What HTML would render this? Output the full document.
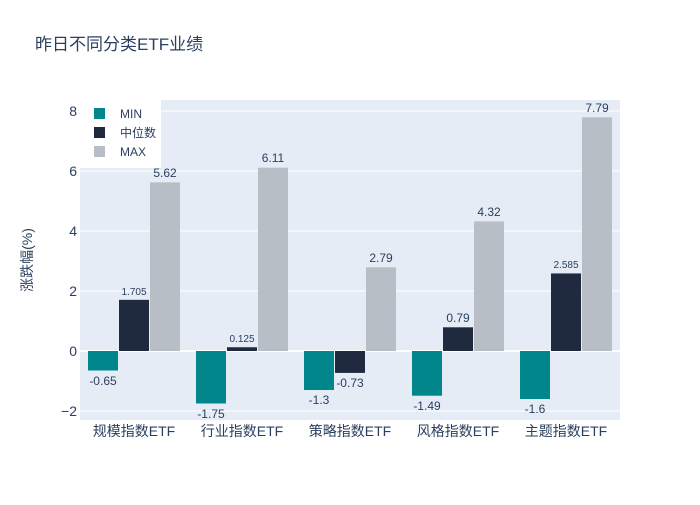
<!DOCTYPE html>
<html><head><meta charset="utf-8"><style>
body{margin:0;background:#fff;}
svg{font-family:"Liberation Sans","Noto Sans CJK SC",sans-serif;}
</style></head><body>
<svg width="700" height="500" xmlns="http://www.w3.org/2000/svg">
<rect width="700" height="500" fill="#fff"/>
<text x="35" y="50" font-size="17" fill="#2a3f5f">昨日不同分类ETF业绩</text>
<rect x="80" y="100" width="540" height="320" fill="#e5ecf6"/>
<g stroke="#fff" stroke-width="1">
<line x1="80" x2="620" y1="411" y2="411"/>
<line x1="80" x2="620" y1="291" y2="291"/>
<line x1="80" x2="620" y1="231" y2="231"/>
<line x1="80" x2="620" y1="171" y2="171"/>
<line x1="80" x2="620" y1="111" y2="111"/>
</g>
<line x1="80" x2="620" y1="351" y2="351" stroke="#fff" stroke-width="2"/>
<g font-size="14" fill="#2a3f5f" text-anchor="end">
<text x="77" y="416">−2</text><text x="77" y="356">0</text><text x="77" y="296">2</text>
<text x="77" y="236">4</text><text x="77" y="176">6</text><text x="77" y="116">8</text>
</g>
<text transform="translate(32,260) rotate(-90)" font-size="14" fill="#2a3f5f" text-anchor="middle">涨跌幅(%)</text>
<g font-size="14" fill="#2a3f5f" text-anchor="middle">
<text x="134" y="436">规模指数ETF</text><text x="242" y="436">行业指数ETF</text>
<text x="350" y="436">策略指数ETF</text><text x="458" y="436">风格指数ETF</text>
<text x="566" y="436">主题指数ETF</text>
</g>
<g fill="#00868b">
<rect x="88" y="351" width="30" height="19.5"/>
<rect x="196" y="351" width="30" height="52.5"/>
<rect x="304" y="351" width="30" height="39"/>
<rect x="412" y="351" width="30" height="44.7"/>
<rect x="520" y="351" width="30" height="48"/>
</g>
<g fill="#1f2a3f">
<rect x="119" y="299.85" width="30" height="51.15"/>
<rect x="227" y="347.25" width="30" height="3.75"/>
<rect x="335" y="351" width="30" height="21.9"/>
<rect x="443" y="327.3" width="30" height="23.7"/>
<rect x="551" y="273.45" width="30" height="77.55"/>
</g>
<g fill="#b8bec6">
<rect x="150" y="182.4" width="30" height="168.6"/>
<rect x="258" y="167.7" width="30" height="183.3"/>
<rect x="366" y="267.3" width="30" height="83.7"/>
<rect x="474" y="221.4" width="30" height="129.6"/>
<rect x="582" y="117.3" width="30" height="233.7"/>
</g>
<g font-size="12" fill="#2a3f5f" text-anchor="middle">
<text x="103" y="385">-0.65</text><text x="211" y="418">-1.75</text>
<text x="319" y="404">-1.3</text><text x="427" y="410">-1.49</text><text x="535" y="413">-1.6</text>
<text x="350" y="387">-0.73</text><text x="458" y="322">0.79</text>
<text x="165" y="177">5.62</text><text x="273" y="162">6.11</text><text x="381" y="262">2.79</text>
<text x="489" y="216">4.32</text><text x="597" y="112">7.79</text>
</g>
<g font-size="10" fill="#2a3f5f" text-anchor="middle">
<text x="134" y="295">1.705</text><text x="242" y="342">0.125</text><text x="566" y="268">2.585</text>
</g>
<rect x="80" y="100" width="81" height="68" fill="#fff"/>
<rect x="94" y="108" width="11" height="11" fill="#00868b"/>
<rect x="94" y="127" width="11" height="11" fill="#1f2a3f"/>
<rect x="94" y="146" width="11" height="11" fill="#b8bec6"/>
<g font-size="12" fill="#2a3f5f">
<text x="120" y="118">MIN</text><text x="120" y="137">中位数</text><text x="120" y="156">MAX</text>
</g>
</svg>
</body></html>
